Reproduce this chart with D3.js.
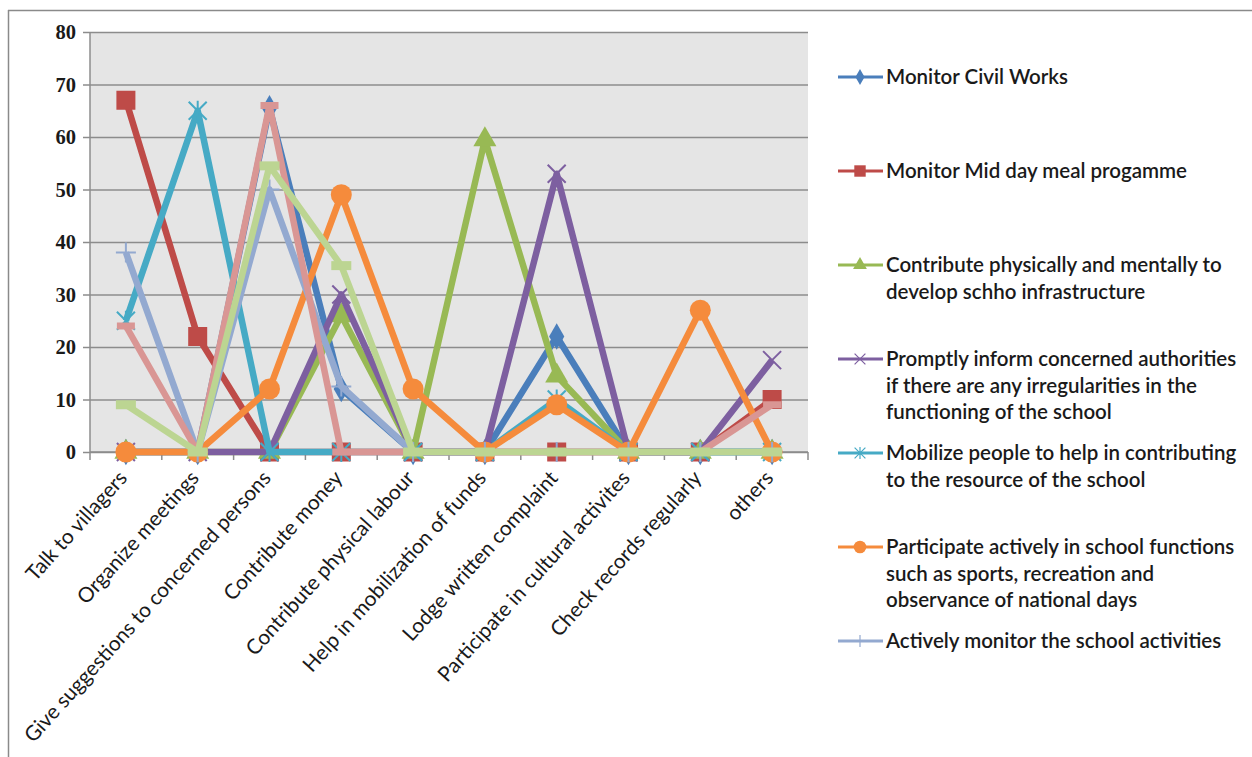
<!DOCTYPE html>
<html>
<head>
<meta charset="utf-8">
<script src="https://cdn.jsdelivr.net/npm/d3@7"></script>
<style>
  body { margin: 0; background: #fff; }
  svg { display: block; }
</style>
</head>
<body>
<svg id="chart" width="1252" height="757"></svg>
<script>
// Activities on the horizontal axis
const categories = [
  "Talk to villagers", "Organize meetings", "Give suggestions to concerned persons",
  "Contribute money", "Contribute physical labour", "Help in mobilization of funds",
  "Lodge written complaint", "Participate in cultural activites", "Check records regularly", "others"
];

// Percentage of respondents per activity, one array per role
const monitorCivilWorks      = [0, 0, 65.5, 12, 0, 0, 22, 0, 0, 0];
const monitorMidDayMeal      = [67, 22, 0, 0, 0, 0, 0, 0, 0, 10];
const contributeInfra        = [0, 0, 0, 26, 0, 59.5, 14.5, 0, 0, 0];
const informAuthorities      = [0, 0, 0, 30, 0, 0, 53, 0, 0, 17.5];
const mobilizePeople         = [25, 65, 0, 0, 0, 0, 10, 0, 0, 0];
const participateFunctions   = [0, 0, 12, 49, 12, 0, 9, 0, 27, 0];
const activelyMonitor        = [38, 0, 50, 12.5, 0, 0, 0, 0, 0, 0];
const series8                = [24, 0, 66, 0, 0, 0, 0, 0, 0, 9];
const series9                = [9, 0, 54.5, 35.5, 0, 0, 0, 0, 0, 0];

const yTicks = [0, 10, 20, 30, 40, 50, 60, 70, 80];

// Legend wording, wrapped the way it is set in the legend box
const legendLabels = [
  ["Monitor Civil Works"],
  ["Monitor Mid day meal progamme"],
  ["Contribute physically and mentally to", "develop schho infrastructure"],
  ["Promptly inform concerned authorities", "if there are any irregularities in the", "functioning of the school"],
  ["Mobilize people to help in contributing", "to the resource of the school"],
  ["Participate actively in school functions", "such as sports, recreation and", "observance of national days"],
  ["Actively monitor the school activities"]
];

const series = [
  { values: monitorCivilWorks,    color: "#4a7ebb", marker: "diamond" },
  { values: monitorMidDayMeal,    color: "#be4b48", marker: "square" },
  { values: contributeInfra,      color: "#98b954", marker: "triangle" },
  { values: informAuthorities,    color: "#7d5fa0", marker: "x" },
  { values: mobilizePeople,       color: "#46aac5", marker: "star" },
  { values: participateFunctions, color: "#f58b3c", marker: "circle" },
  { values: activelyMonitor,      color: "#93a9d0", marker: "plus" },
  { values: series8,              color: "#d99694", marker: "dash" },
  { values: series9,              color: "#bcd592", marker: "bar" }
];

const svg = d3.select("#chart");

// Outer chart frame (left and top edges)
svg.append("line").attr("x1", 8.5).attr("x2", 8.5).attr("y1", 10).attr("y2", 757)
  .attr("stroke", "#8a8a8a").attr("stroke-width", 1.5);
svg.append("line").attr("x1", 8).attr("x2", 1252).attr("y1", 10.5).attr("y2", 10.5)
  .attr("stroke", "#8a8a8a").attr("stroke-width", 1.5);

const plot = { left: 90, right: 808, top: 32, bottom: 452 };

const x = d3.scaleBand().domain(categories).range([plot.left, plot.right]).padding(0);
const y = d3.scaleLinear().domain([0, 80]).range([plot.bottom, plot.top]);
const cx = c => x(c) + x.bandwidth() / 2;

// Plot area background
svg.append("rect")
  .attr("x", plot.left).attr("y", plot.top)
  .attr("width", plot.right - plot.left).attr("height", plot.bottom - plot.top)
  .attr("fill", "#e5e5e5");

// Horizontal gridlines with short outward ticks and bold value labels
const yAxis = svg.append("g")
  .attr("transform", `translate(${plot.left},0)`)
  .call(d3.axisLeft(y).tickValues(yTicks).tickSize(0).tickPadding(14).tickFormat(d3.format("d")));
yAxis.select(".domain").remove();
yAxis.selectAll(".tick line").remove();
yAxis.selectAll(".tick").append("line")
  .attr("x1", -7).attr("x2", plot.right - plot.left)
  .attr("stroke", "#8c8c8c").attr("stroke-width", 1.5);
yAxis.selectAll(".tick text")
  .attr("font-family", "'Liberation Serif', 'Times New Roman', serif")
  .attr("font-weight", "bold").attr("font-size", 20.5).attr("fill", "#1a1a1a")
  .attr("x", -14);

// Vertical value axis line
svg.append("line").attr("x1", plot.left).attr("x2", plot.left)
  .attr("y1", plot.top).attr("y2", plot.bottom)
  .attr("stroke", "#8c8c8c").attr("stroke-width", 1.5);

// Category axis: baseline, boundary ticks, rotated labels
svg.append("line").attr("x1", plot.left).attr("x2", plot.right)
  .attr("y1", plot.bottom).attr("y2", plot.bottom)
  .attr("stroke", "#8c8c8c").attr("stroke-width", 1.5);
const bounds = d3.range(categories.length + 1).map(i => plot.left + i * x.step());
svg.append("g").selectAll("line").data(bounds).join("line")
  .attr("x1", d => d).attr("x2", d => d)
  .attr("y1", plot.bottom).attr("y2", plot.bottom + 8)
  .attr("stroke", "#8c8c8c").attr("stroke-width", 1.5);

svg.append("g").selectAll("text").data(categories).join("text")
  .attr("transform", d => `translate(${cx(d) - 3},${plot.bottom + 22}) rotate(-48)`)
  .attr("text-anchor", "end")
  .attr("dy", "0.35em")
  .attr("font-family", "Lato, 'Open Sans', sans-serif")
  .attr("font-size", 20.8)
  .attr("fill", "#1a1a1a")
  .text(d => d);

// Marker drawing for each Excel-style marker type
function drawMarker(g, type, color) {
  switch (type) {
    case "diamond":
      g.append("path").attr("d", d3.symbol(d3.symbolDiamond, 200)()).attr("fill", color);
      break;
    case "square":
      g.append("rect").attr("x", -9.5).attr("y", -9.5).attr("width", 19).attr("height", 19).attr("fill", color);
      break;
    case "triangle":
      g.append("path").attr("d", d3.symbol(d3.symbolTriangle, 230)()).attr("fill", color);
      break;
    case "x":
      g.append("path").attr("d", "M-9,-9L9,9M-9,9L9,-9").attr("stroke", color).attr("stroke-width", 2);
      break;
    case "star":
      g.append("path").attr("d", "M-9,-9L9,9M-9,9L9,-9M0,-10L0,10").attr("stroke", color).attr("stroke-width", 2);
      break;
    case "circle":
      g.append("circle").attr("r", 10.5).attr("fill", color);
      break;
    case "plus":
      g.append("path").attr("d", "M-10,0L10,0M0,-10L0,10").attr("stroke", color).attr("stroke-width", 2);
      break;
    case "dash":
      g.append("rect").attr("x", -9).attr("y", -3.5).attr("width", 18).attr("height", 7).attr("fill", color);
      break;
    case "bar":
      g.append("rect").attr("x", -10).attr("y", -4.5).attr("width", 20).attr("height", 9).attr("fill", color);
      break;
  }
}

const line = d3.line().x((d, i) => cx(categories[i])).y(d => y(d));

const seriesG = svg.append("g").selectAll("g").data(series).join("g");
seriesG.append("path")
  .attr("d", s => line(s.values))
  .attr("fill", "none")
  .attr("stroke", s => s.color)
  .attr("stroke-width", 6.5)
  .attr("stroke-linejoin", "round");
seriesG.each(function (s) {
  const g = d3.select(this);
  s.values.forEach((v, i) => {
    const m = g.append("g").attr("transform", `translate(${cx(categories[i])},${y(v)})`);
    drawMarker(m, s.marker, s.color);
  });
});

// Legend (first seven series)
const legend = svg.append("g").attr("transform", "translate(838,77)");
const items = legend.selectAll("g").data(legendLabels).join("g")
  .attr("transform", (d, i) => `translate(0,${i * 94})`);
items.append("line").attr("x1", 0).attr("x2", 45).attr("y1", 0).attr("y2", 0)
  .attr("stroke", (d, i) => series[i].color).attr("stroke-width", 3);
items.each(function (d, i) {
  const m = d3.select(this).append("g").attr("transform", "translate(22,0) scale(0.6)");
  drawMarker(m, series[i].marker, series[i].color);
});
items.append("text")
  .attr("x", 48)
  .attr("font-family", "Lato, 'Open Sans', sans-serif")
  .attr("font-size", 20.5)
  .attr("font-weight", 600)
  .attr("fill", "#1a1a1a")
  .selectAll("tspan").data(d => d).join("tspan")
  .attr("x", 48)
  .attr("y", (d, j) => j * 26.5)
  .attr("dy", "0.35em")
  .text(d => d);
</script>
</body>
</html>
